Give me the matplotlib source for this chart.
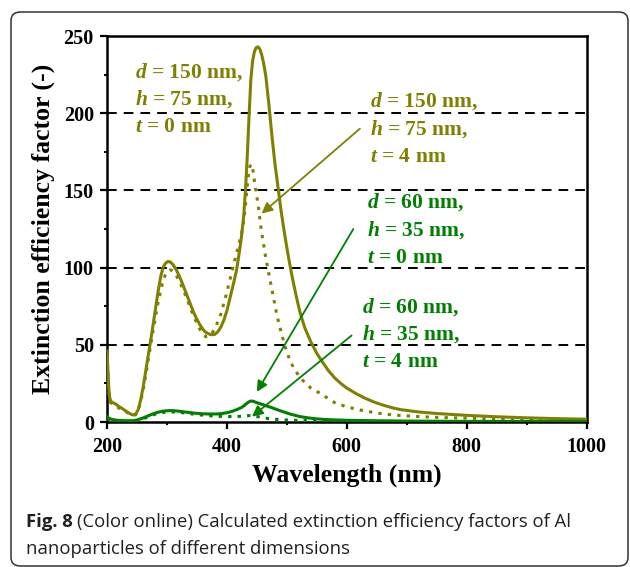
import matplotlib
matplotlib.use("Agg")
import matplotlib.pyplot as plt
from matplotlib.patches import FancyBboxPatch
from matplotlib.ticker import MultipleLocator

plt.rcParams['mathtext.fontset'] = 'custom'
plt.rcParams['mathtext.rm'] = 'Liberation Serif:bold'
plt.rcParams['mathtext.it'] = 'Liberation Serif:italic:bold'
plt.rcParams['mathtext.bf'] = 'Liberation Serif:bold'
plt.rcParams['mathtext.bfit'] = 'Liberation Serif:italic:bold'

OLIVE = '#808000'
GREEN = '#008000'

# ---- data ----
wl_150_t0 = [200, 201, 202, 203, 204, 206, 210, 215, 220, 225, 230, 235, 240, 244, 248, 252,
             256, 260, 265, 270, 275, 280, 285, 290, 294, 298, 302, 306, 310, 315, 320, 325,
             330, 335, 340, 345, 350, 355, 360, 365, 370, 375, 380, 385, 390, 395, 400, 405,
             410, 416, 420, 424, 428, 431, 434, 437, 440, 443, 446, 449, 452, 455, 458, 461,
             465, 470, 475, 480, 485, 490, 495, 500, 505, 510, 516, 522, 530, 540, 550, 560,
             570, 580, 590, 600, 615, 630, 645, 660, 675, 690, 720, 750, 800, 850, 900, 950,
             1000]
q_150_t0 = [46, 38, 30, 22, 17, 13.5, 12.5, 11.5, 10, 8.8, 7.5, 6.2, 5, 4.5, 5.2, 8,
            14, 22, 34, 46, 58, 71, 84, 95, 100.5, 103, 104, 103.5, 102, 99, 95, 90.5,
            85.5, 80.5, 75.5, 70.5, 66.5, 63, 60, 58, 57, 56.5, 56.8, 58.5, 61.5, 66, 72, 80,
            88, 98, 108, 119, 133, 150, 172, 198, 222, 234, 240, 242.5, 243, 241.5, 238, 233,
            224, 206, 186, 168, 153, 138, 125, 113, 102, 92, 81, 71, 61, 52, 44.5, 38.5,
            33, 28.5, 25, 22, 18.5, 15.5, 13, 11, 9.3, 8, 6.5, 5.5, 4.3, 3.4, 2.7, 2.2,
            1.8]

wl_150_t4 = [200, 201, 202, 203, 204, 206, 210, 215, 220, 225, 230, 235, 240, 244, 248, 252,
             256, 260, 265, 270, 275, 280, 285, 290, 294, 298, 302, 305, 308, 312, 316, 320,
             325, 330, 335, 340, 345, 350, 355, 360, 365, 370, 375, 380, 385, 390, 395, 400,
             405, 410, 415, 420, 424, 428, 431, 434, 436, 438, 440, 442, 444, 447, 450, 453,
             456, 460, 465, 470, 477, 483, 490, 497, 505, 512, 520, 530, 540, 556, 580, 600,
             622, 650, 678, 720, 750, 800, 850, 900, 1000]
q_150_t4 = [44, 36, 28, 21, 16, 12.5, 11.5, 10.5, 9, 8, 7, 5.8, 4.8, 4.2, 4.8, 7.5,
            13, 20, 31, 43, 55, 66, 77, 86, 92, 96, 98, 98.5, 98.2, 97, 94.5, 92,
            87.5, 83, 78, 73, 68, 64, 60, 57, 55.2, 55.5, 57.5, 60.5, 65, 70, 77, 84,
            92, 100, 107.5, 115, 121, 130, 140, 153, 160, 165, 167, 166, 162, 153, 146, 138,
            128, 118, 106, 96, 82, 70, 59, 49, 40, 34.5, 30, 25.5, 22, 18.5, 12.5, 9.8,
            7.8, 5.8, 4.5, 3.5, 3, 2.5, 2, 1.7, 1.2]

wl_60_t0 = [200, 203, 207, 215, 225, 235, 245, 252, 260, 268, 275, 283, 290, 297, 305, 312,
            320, 330, 340, 350, 360, 370, 383, 392, 400, 408, 415, 420, 425, 430, 434, 438,
            441, 444, 448, 454, 460, 468, 477, 486, 495, 505, 515, 522, 535, 550, 570, 600,
            650, 700, 800, 900, 1000]
q_60_t0 = [3.5, 2.5, 1.8, 1.2, 0.9, 0.8, 0.9, 1.5, 2.6, 3.9, 5, 6.1, 6.8, 7.2, 7.4, 7.3,
           7, 6.5, 6, 5.6, 5.3, 5.2, 5.2, 5.5, 6, 6.8, 7.8, 8.6, 9.5, 11, 12.3, 13.3,
           13.6, 13.4, 12.8, 12, 11.3, 10.2, 9, 7.7, 6.5, 5.2, 4.2, 3.5, 2.7, 2, 1.5, 1.1,
           0.8, 0.6, 0.4, 0.35, 0.3]

wl_60_t4 = [200, 203, 207, 215, 230, 245, 252, 260, 270, 280, 290, 300, 310, 320, 335, 350,
            365, 380, 395, 410, 425, 433, 438, 442, 446, 452, 460, 470, 480, 495, 520, 560,
            600, 700, 1000]
q_60_t4 = [2, 1.4, 1, 0.6, 0.4, 0.5, 1, 2, 3.5, 5, 6, 6.5, 6.5, 6.3, 5.6, 4.8,
           4.2, 3.8, 3.6, 3.5, 3.7, 4, 4.2, 4.2, 3.9, 3.4, 2.8, 2.2, 1.8, 1.4, 1, 0.7,
           0.5, 0.35, 0.2]

x_ticks = [200, 400, 600, 800, 1000]
y_ticks = [0, 50, 100, 150, 200, 250]
grid_levels = [50, 100, 150, 200]

W, H = 630, 567
fig = plt.figure(figsize=(W / 100, H / 100), dpi=100)

def fx(px):
    return px / W

def fy(py):
    return 1 - py / H

# rounded frame around figure+caption
frame = FancyBboxPatch((fx(11), fy(566)), fx(628) - fx(11), fy(12) - fy(566),
                       boxstyle="round,pad=0,rounding_size=0.015",
                       transform=fig.transFigure, fill=False,
                       edgecolor='#333333', lw=1.1, zorder=0)
fig.patches.append(frame)

ax = fig.add_axes([fx(107), fy(422), fx(586.5) - fx(107), fy(36) - fy(422)])
ax.set_xlim(200, 1000)
ax.set_ylim(0, 250)

for lv in grid_levels:
    ax.axhline(lv, color='black', lw=1.4, ls=(0, (5, 3.6)), zorder=1)

lw = 2.2
ax.plot(wl_150_t0, q_150_t0, color=OLIVE, lw=lw, zorder=3, solid_joinstyle='round')
ax.plot(wl_150_t4, q_150_t4, color=OLIVE, lw=lw, ls=(0, (1.1, 2.0)), zorder=3)
ax.plot(wl_60_t0, q_60_t0, color=GREEN, lw=lw, zorder=3, solid_joinstyle='round')
ax.plot(wl_60_t4, q_60_t4, color=GREEN, lw=lw, ls=(0, (1.1, 2.0)), zorder=3)

ax.set_xticks(x_ticks)
ax.set_yticks(y_ticks)
ax.xaxis.set_minor_locator(MultipleLocator(100))
ax.yaxis.set_minor_locator(MultipleLocator(25))
for s in ax.spines.values():
    s.set_linewidth(1.8)
ax.tick_params(which='major', direction='out', length=5, width=1.6, labelsize=14.5)
ax.tick_params(which='minor', direction='out', length=2.2, width=1.4)
ax.tick_params(axis='x', which='major', pad=5.5)
ax.tick_params(axis='y', which='major', pad=4.5)
for lab in ax.get_xticklabels() + ax.get_yticklabels():
    lab.set_fontfamily('Liberation Serif')
    lab.set_fontweight('bold')

ax.set_xlabel('Wavelength (nm)', fontfamily='Liberation Serif', fontweight='bold',
              fontsize=18.5, labelpad=5)
ax.set_ylabel('Extinction efficiency factor (-)', fontfamily='Liberation Serif',
              fontweight='bold', fontsize=18.5, labelpad=6)

# annotation texts
def label_block(x, baselines, lines, color):
    for b, t in zip(baselines, lines):
        fig.text(fx(x), fy(b), t, color=color, fontsize=15.5, fontfamily='Liberation Serif',
                 fontweight='bold', va='baseline', ha='left')

label_block(135, [78, 105, 132],
            [r'$\mathbfit{d}$ = 150 nm,', r'$\mathbfit{h}$ = 75 nm,', r'$\mathbfit{t}$ = 0 nm'], OLIVE)
label_block(370, [107, 135, 162],
            [r'$\mathbfit{d}$ = 150 nm,', r'$\mathbfit{h}$ = 75 nm,', r'$\mathbfit{t}$ = 4 nm'], OLIVE)
label_block(367, [208, 236, 263],
            [r'$\mathbfit{d}$ = 60 nm,', r'$\mathbfit{h}$ = 35 nm,', r'$\mathbfit{t}$ = 0 nm'], GREEN)
label_block(362, [313, 340, 367],
            [r'$\mathbfit{d}$ = 60 nm,', r'$\mathbfit{h}$ = 35 nm,', r'$\mathbfit{t}$ = 4 nm'], GREEN)

# arrows (tail, tip) in data coordinates
arrows = [((622, 190), (458, 135), OLIVE),
          ((611, 125), (450, 19.5), GREEN),
          ((608, 56), (442, 3.5), GREEN)]
for tail, tip, c in arrows:
    ax.annotate('', xy=tip, xytext=tail,
                arrowprops=dict(arrowstyle='-|>', color=c, lw=1.3,
                                mutation_scale=16, shrinkA=0, shrinkB=0),
                zorder=4)

# caption
cap_size = 13.3
t1 = fig.text(fx(26), fy(522), 'Fig. 8', fontfamily='Open Sans', fontweight='bold',
              fontsize=cap_size, va='center', ha='left', color='#231f20')
fig.canvas.draw()
bb = t1.get_window_extent()
fig.text(fx(bb.x1 + 4), fy(522), '(Color online) Calculated extinction efficiency factors of Al',
         fontfamily='Open Sans', fontsize=cap_size, va='center', ha='left', color='#231f20')
fig.text(fx(26), fy(549), 'nanoparticles of different dimensions',
         fontfamily='Open Sans', fontsize=cap_size, va='center', ha='left', color='#231f20')

fig.savefig('out.png', dpi=100)
